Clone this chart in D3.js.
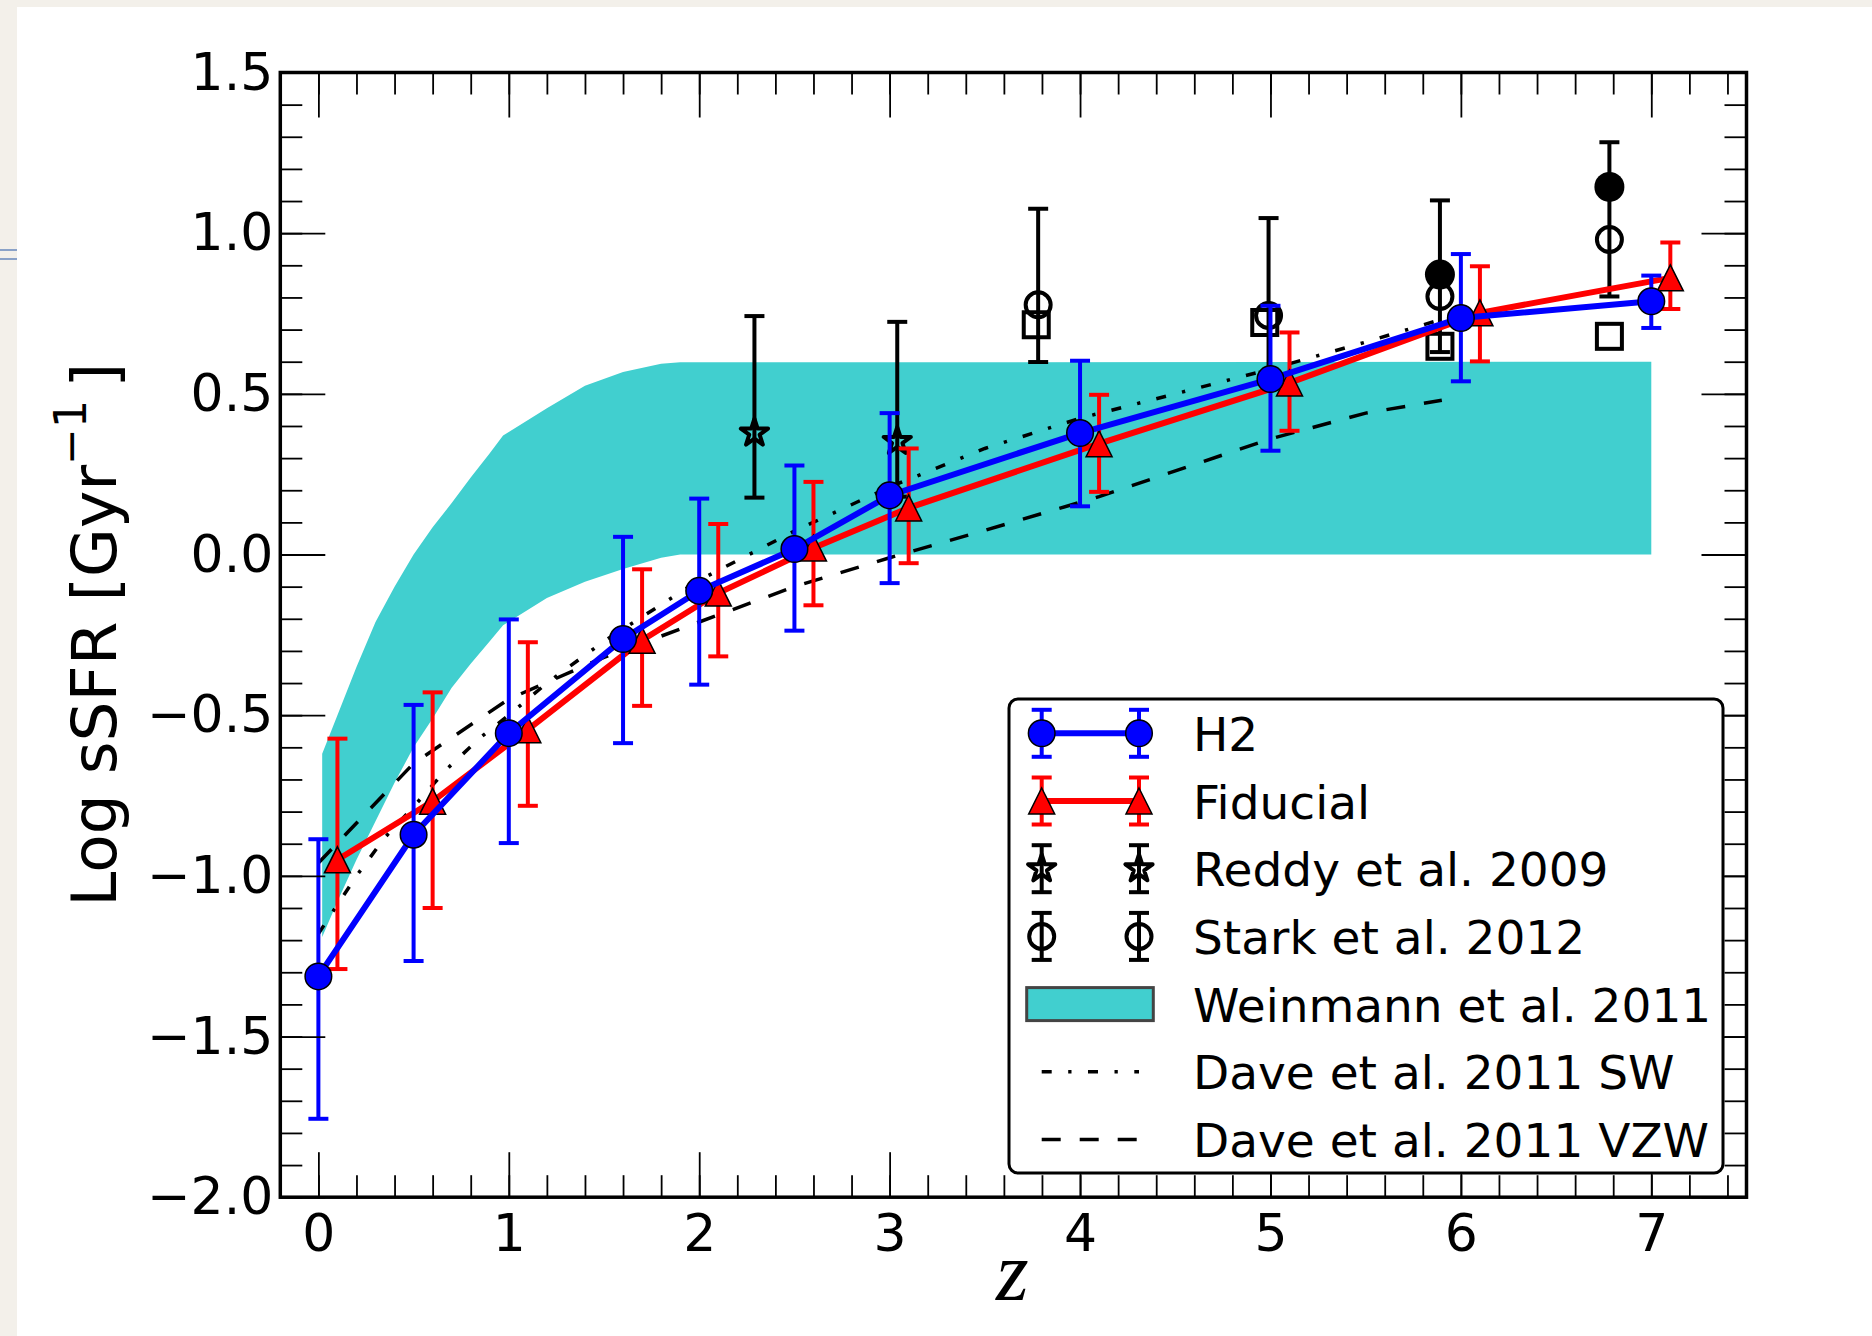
<!DOCTYPE html>
<html>
<head>
<meta charset="utf-8">
<script src="https://cdn.jsdelivr.net/npm/d3@7"></script>
<style>
  html, body { margin: 0; padding: 0; background: #f3f0ea; }
  svg { display: block; }
</style>
</head>
<body>
<div id="vis"></div>
<script>
// H2 model (blue circles)
var h2Z   = [0, 0.5, 1.0, 1.6, 2.0, 2.5, 3.0, 4.0, 5.0, 6.0, 7.0];
var h2Val = [-1.313, -0.872, -0.556, -0.263, -0.113, 0.017, 0.184, 0.378, 0.546, 0.736, 0.788];
var h2Hi  = [-0.886, -0.468, -0.202, 0.055, 0.174, 0.277, 0.440, 0.603, 0.774, 0.935, 0.868];
var h2Lo  = [-1.756, -1.265, -0.898, -0.587, -0.405, -0.237, -0.089, 0.150, 0.323, 0.539, 0.705];

// Fiducial model (red triangles)
var fidZ   = [0.1, 0.6, 1.1, 1.7, 2.1, 2.6, 3.1, 4.1, 5.1, 6.1, 7.1];
var fidVal = [-0.950, -0.768, -0.545, -0.267, -0.120, 0.020, 0.145, 0.345, 0.534, 0.752, 0.861];
var fidHi  = [-0.573, -0.429, -0.273, -0.046, 0.095, 0.226, 0.330, 0.497, 0.691, 0.897, 0.971];
var fidLo  = [-1.290, -1.100, -0.782, -0.471, -0.317, -0.158, -0.027, 0.195, 0.385, 0.601, 0.764];

// Reddy et al. 2009
var reddyZ   = [2.29, 3.04];
var reddyVal = [0.378, 0.352];
var reddyHi  = [0.742, 0.724];
var reddyLo  = [0.177, 0.180];

// Stark et al. 2012 (open circles with errors, plus filled circles and squares)
var starkZ   = [3.78, 4.99, 5.89, 6.78];
var starkVal = [0.777, 0.744, 0.803, 0.980];
var starkHi  = [1.076, 1.047, 1.102, 1.283];
var starkLo  = [0.599, 0.566, 0.630, 0.803];
var starkFilledZ   = [5.89, 6.78];
var starkFilledVal = [0.871, 1.144];
var starkSquareZ   = [3.77, 4.97, 5.89, 6.78];
var starkSquareVal = [0.715, 0.722, 0.648, 0.679];

// Weinmann et al. 2011 band
var weinZ    = [0.02, 0.1, 0.2, 0.3, 0.4, 0.5, 0.6, 0.7, 0.8, 0.9, 0.97, 1.2, 1.4, 1.6, 1.8, 1.9, 7.0];
var weinHigh = [-0.62, -0.50, -0.35, -0.21, -0.10, 0.0, 0.085, 0.16, 0.24, 0.315, 0.37, 0.455, 0.525, 0.568, 0.594, 0.598, 0.60];
var weinLow  = [-1.19, -1.08, -0.95, -0.83, -0.71, -0.60, -0.51, -0.415, -0.34, -0.27, -0.22, -0.135, -0.085, -0.045, -0.01, 0.0, 0.0];

// Dave et al. 2011
var daveSwZ   = [0, 0.2, 0.35, 0.5, 0.67, 0.85, 1.0, 1.2, 1.5, 2.0, 2.5, 3.0, 3.5, 4.0, 4.5, 5.0, 5.5, 6.0];
var daveSwVal = [-1.18, -1.0, -0.88, -0.785, -0.67, -0.57, -0.50, -0.40, -0.27, -0.08, 0.073, 0.21, 0.33, 0.424, 0.50, 0.577, 0.661, 0.75];
var daveVzwZ   = [0, 0.5, 1.0, 1.5, 2.0, 2.5, 3.0, 3.5, 4.1, 5.0, 5.5, 5.9];
var daveVzwVal = [-0.96, -0.65, -0.45, -0.32, -0.21, -0.10, -0.01, 0.075, 0.18, 0.36, 0.44, 0.48];

var xTicks = [0, 1, 2, 3, 4, 5, 6, 7];
var yTicks = [-2.0, -1.5, -1.0, -0.5, 0.0, 0.5, 1.0, 1.5];
var legendLabels = ["H2", "Fiducial", "Reddy et al. 2009", "Stark et al. 2012",
                    "Weinmann et al. 2011", "Dave et al. 2011 SW", "Dave et al. 2011 VZW"];

var W = 1872, H = 1336;
var bandColor = "#41cfcf";
var font = "'DejaVu Sans', sans-serif";

var svg = d3.select("#vis").append("svg")
    .attr("width", W)
    .attr("height", H);

// page background (slide look)
svg.append("rect").attr("width", W).attr("height", H).attr("fill", "#f3f0ea");
svg.append("rect").attr("x", 17).attr("y", 7).attr("width", W - 17).attr("height", H - 7).attr("fill", "#ffffff");
svg.append("line").attr("x1", 0).attr("x2", 17).attr("y1", 250).attr("y2", 250)
    .attr("stroke", "#8aa2c8").attr("stroke-width", 2);
svg.append("line").attr("x1", 0).attr("x2", 17).attr("y1", 259).attr("y2", 259)
    .attr("stroke", "#8aa2c8").attr("stroke-width", 2);

var x = d3.scaleLinear().domain([-0.2, 7.5]).range([280.3, 1746.5]);
var y = d3.scaleLinear().domain([-2.0, 1.5]).range([1197.2, 72.5]);

var plot = svg.append("g");

// Weinmann band
var band = d3.range(weinZ.length).map(function (i) { return [weinZ[i], weinLow[i], weinHigh[i]]; });
plot.append("path")
    .datum(band)
    .attr("fill", bandColor)
    .attr("d", d3.area()
        .x(function (d) { return x(d[0]); })
        .y0(function (d) { return y(d[1]); })
        .y1(function (d) { return y(d[2]); }));

// Dave lines
var pairs = function (zs, vs) { return zs.map(function (z, i) { return [z, vs[i]]; }); };
var line = d3.line().x(function (d) { return x(d[0]); }).y(function (d) { return y(d[1]); });

plot.append("path")
    .datum(pairs(daveSwZ, daveSwVal))
    .attr("fill", "none").attr("stroke", "#000").attr("stroke-width", 3.5)
    .attr("stroke-dasharray", "10,16.5,3.3,16.5")
    .attr("d", line);
plot.append("path")
    .datum(pairs(daveVzwZ, daveVzwVal))
    .attr("fill", "none").attr("stroke", "#000").attr("stroke-width", 3.5)
    .attr("stroke-dasharray", "19,19")
    .attr("d", line);

// error bar helper
function errorBars(g, zs, lo, hi, color) {
  var eb = g.append("g").attr("stroke", color).attr("stroke-width", 4);
  zs.forEach(function (z, i) {
    var cx = x(z);
    eb.append("line").attr("x1", cx).attr("x2", cx).attr("y1", y(lo[i])).attr("y2", y(hi[i]));
    eb.append("line").attr("x1", cx - 10).attr("x2", cx + 10).attr("y1", y(lo[i])).attr("y2", y(lo[i]));
    eb.append("line").attr("x1", cx - 10).attr("x2", cx + 10).attr("y1", y(hi[i])).attr("y2", y(hi[i]));
  });
}

var starPath = d3.symbol().type(d3.symbolStar).size(230)();
var triPath = "M0,-13L13,13L-13,13Z";

// Reddy
errorBars(plot, reddyZ, reddyLo, reddyHi, "#000");
plot.selectAll(".reddy")
    .data(pairs(reddyZ, reddyVal))
    .enter().append("path")
    .attr("transform", function (d) { return "translate(" + x(d[0]) + "," + y(d[1]) + ")"; })
    .attr("d", starPath)
    .attr("fill", "none").attr("stroke", "#000").attr("stroke-width", 4)
    .attr("stroke-linejoin", "round");

// Stark
errorBars(plot, starkZ, starkLo, starkHi, "#000");
plot.selectAll(".starkOpen")
    .data(pairs(starkZ, starkVal))
    .enter().append("circle")
    .attr("cx", function (d) { return x(d[0]); })
    .attr("cy", function (d) { return y(d[1]); })
    .attr("r", 12.5)
    .attr("fill", "none").attr("stroke", "#000").attr("stroke-width", 4);
plot.selectAll(".starkFilled")
    .data(pairs(starkFilledZ, starkFilledVal))
    .enter().append("circle")
    .attr("cx", function (d) { return x(d[0]); })
    .attr("cy", function (d) { return y(d[1]); })
    .attr("r", 15)
    .attr("fill", "#000");
plot.selectAll(".starkSquare")
    .data(pairs(starkSquareZ, starkSquareVal))
    .enter().append("rect")
    .attr("x", function (d) { return x(d[0]) - 12.5; })
    .attr("y", function (d) { return y(d[1]) - 12.5; })
    .attr("width", 25).attr("height", 25)
    .attr("fill", "none").attr("stroke", "#000").attr("stroke-width", 4);

// Fiducial
plot.append("path")
    .datum(pairs(fidZ, fidVal))
    .attr("fill", "none").attr("stroke", "#ff0000").attr("stroke-width", 6)
    .attr("d", line);
errorBars(plot, fidZ, fidLo, fidHi, "#ff0000");
plot.selectAll(".fid")
    .data(pairs(fidZ, fidVal))
    .enter().append("path")
    .attr("transform", function (d) { return "translate(" + x(d[0]) + "," + y(d[1]) + ")"; })
    .attr("d", triPath)
    .attr("fill", "#ff0000").attr("stroke", "#000").attr("stroke-width", 1.5);

// H2
plot.append("path")
    .datum(pairs(h2Z, h2Val))
    .attr("fill", "none").attr("stroke", "#0000ff").attr("stroke-width", 6)
    .attr("d", line);
errorBars(plot, h2Z, h2Lo, h2Hi, "#0000ff");
plot.selectAll(".h2")
    .data(pairs(h2Z, h2Val))
    .enter().append("circle")
    .attr("cx", function (d) { return x(d[0]); })
    .attr("cy", function (d) { return y(d[1]); })
    .attr("r", 13.3)
    .attr("fill", "#0000ff").attr("stroke", "#000").attr("stroke-width", 1.5);

// axes: ticks inward on all four sides
var xMinor = d3.range(-0.2, 7.51, 0.2);
var yMinor = d3.range(-2.0, 1.51, 0.1);
var axes = svg.append("g").attr("font-family", font);

function styleAxis(g) {
  g.select(".domain").remove();
  g.selectAll(".tick line").attr("stroke", "#000").attr("stroke-width", 1.8);
  g.selectAll("text").attr("font-size", 52).attr("font-family", font).attr("fill", "#000");
}

axes.append("g").attr("transform", "translate(0," + y(-2) + ")")
    .call(d3.axisBottom(x).tickValues(xMinor).tickSize(-22).tickFormat("")).call(styleAxis);
axes.append("g").attr("transform", "translate(0," + y(-2) + ")")
    .call(d3.axisBottom(x).tickValues(xTicks).tickSize(-45).tickPadding(17).tickFormat(d3.format("d"))).call(styleAxis);
axes.append("g").attr("transform", "translate(0," + y(1.5) + ")")
    .call(d3.axisTop(x).tickValues(xMinor).tickSize(-22).tickFormat("")).call(styleAxis);
axes.append("g").attr("transform", "translate(0," + y(1.5) + ")")
    .call(d3.axisTop(x).tickValues(xTicks).tickSize(-45).tickFormat("")).call(styleAxis);

axes.append("g").attr("transform", "translate(" + x(-0.2) + ",0)")
    .call(d3.axisLeft(y).tickValues(yMinor).tickSize(-22).tickFormat("")).call(styleAxis);
axes.append("g").attr("transform", "translate(" + x(-0.2) + ",0)")
    .call(d3.axisLeft(y).tickValues(yTicks).tickSize(-45).tickPadding(7).tickFormat(d3.format(".1f"))).call(styleAxis);
axes.append("g").attr("transform", "translate(" + x(7.5) + ",0)")
    .call(d3.axisRight(y).tickValues(yMinor).tickSize(-22).tickFormat("")).call(styleAxis);
axes.append("g").attr("transform", "translate(" + x(7.5) + ",0)")
    .call(d3.axisRight(y).tickValues(yTicks).tickSize(-45).tickFormat("")).call(styleAxis);

axes.append("rect")
    .attr("x", x(-0.2)).attr("y", y(1.5))
    .attr("width", x(7.5) - x(-0.2)).attr("height", y(-2) - y(1.5))
    .attr("fill", "none").attr("stroke", "#000").attr("stroke-width", 3.5);

// axis labels
var ylab = svg.append("text")
    .attr("transform", "translate(116," + ((y(1.5) + y(-2)) / 2) + ") rotate(-90)")
    .attr("text-anchor", "middle")
    .attr("font-family", font).attr("font-size", 63).attr("fill", "#000");
ylab.append("tspan").text("Log sSFR [Gyr");
ylab.append("tspan").attr("dy", -30).attr("font-size", 44).text("\u22121");
ylab.append("tspan").attr("dy", 30).text("\u2009]");

svg.append("text")
    .attr("x", (x(-0.2) + x(7.5)) / 2 - 1).attr("y", 1300)
    .attr("text-anchor", "middle")
    .attr("font-family", "'Liberation Serif', 'DejaVu Serif', serif")
    .attr("font-style", "italic").attr("font-size", 84).attr("fill", "#000")
    .text("z");

// legend
var legend = svg.append("g");
legend.append("rect")
    .attr("x", 1009).attr("y", 699).attr("width", 714).attr("height", 474).attr("rx", 9)
    .attr("fill", "#fff").attr("stroke", "#000").attr("stroke-width", 3);

var rowY = function (i) { return 733.3 + i * 67.7; };
var hx = [1041.7, 1139];

function legendBars(i, color) {
  var g = legend.append("g").attr("stroke", color).attr("stroke-width", 4);
  hx.forEach(function (cx) {
    g.append("line").attr("x1", cx).attr("x2", cx).attr("y1", rowY(i) - 23.5).attr("y2", rowY(i) + 23.5);
    g.append("line").attr("x1", cx - 10).attr("x2", cx + 10).attr("y1", rowY(i) - 23.5).attr("y2", rowY(i) - 23.5);
    g.append("line").attr("x1", cx - 10).attr("x2", cx + 10).attr("y1", rowY(i) + 23.5).attr("y2", rowY(i) + 23.5);
  });
}

// H2
legend.append("line").attr("x1", hx[0]).attr("x2", hx[1]).attr("y1", rowY(0)).attr("y2", rowY(0))
    .attr("stroke", "#0000ff").attr("stroke-width", 6);
legendBars(0, "#0000ff");
hx.forEach(function (cx) {
  legend.append("circle").attr("cx", cx).attr("cy", rowY(0)).attr("r", 13.3)
      .attr("fill", "#0000ff").attr("stroke", "#000").attr("stroke-width", 1.5);
});
// Fiducial
legend.append("line").attr("x1", hx[0]).attr("x2", hx[1]).attr("y1", rowY(1)).attr("y2", rowY(1))
    .attr("stroke", "#ff0000").attr("stroke-width", 6);
legendBars(1, "#ff0000");
hx.forEach(function (cx) {
  legend.append("path").attr("transform", "translate(" + cx + "," + rowY(1) + ")").attr("d", triPath)
      .attr("fill", "#ff0000").attr("stroke", "#000").attr("stroke-width", 1.5);
});
// Reddy
legendBars(2, "#000");
hx.forEach(function (cx) {
  legend.append("path").attr("transform", "translate(" + cx + "," + rowY(2) + ")").attr("d", starPath)
      .attr("fill", "none").attr("stroke", "#000").attr("stroke-width", 4).attr("stroke-linejoin", "round");
});
// Stark
legendBars(3, "#000");
hx.forEach(function (cx) {
  legend.append("circle").attr("cx", cx).attr("cy", rowY(3)).attr("r", 12.5)
      .attr("fill", "none").attr("stroke", "#000").attr("stroke-width", 4);
});
// Weinmann
legend.append("rect").attr("x", 1026.7).attr("y", rowY(4) - 16.5).attr("width", 126.6).attr("height", 33)
    .attr("fill", bandColor).attr("stroke", "#444").attr("stroke-width", 3);
// Dave SW / VZW
legend.append("line").attr("x1", hx[0]).attr("x2", hx[1]).attr("y1", rowY(5)).attr("y2", rowY(5))
    .attr("stroke", "#000").attr("stroke-width", 3.5).attr("stroke-dasharray", "10,16.5,3.3,16.5");
legend.append("line").attr("x1", hx[0]).attr("x2", hx[1]).attr("y1", rowY(6)).attr("y2", rowY(6))
    .attr("stroke", "#000").attr("stroke-width", 3.5).attr("stroke-dasharray", "19,19");

legend.selectAll(".lab")
    .data(legendLabels)
    .enter().append("text")
    .attr("x", 1193)
    .attr("y", function (d, i) { return rowY(i) + 17.5; })
    .attr("font-family", font).attr("font-size", 47).attr("fill", "#000")
    .text(function (d) { return d; });
</script>
</body>
</html>
